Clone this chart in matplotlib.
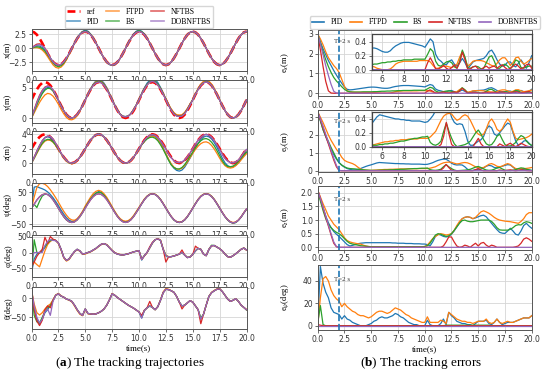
import numpy as np
import matplotlib
matplotlib.use("Agg")
import matplotlib.pyplot as plt
from matplotlib.lines import Line2D

# ---------------- data (sampled every 0.25 s over 0..20 s) ----------------
time_s = np.linspace(0.0, 20.0, 81)
T_mark = 2.0
t_ticks = [0.0, 2.5, 5.0, 7.5, 10.0, 12.5, 15.0, 17.5, 20.0]
inset_ticks = [6, 8, 10, 12, 14, 16, 18, 20]
methods = ["PID", "FTPD", "BS", "NFTBS", "DOBNFTBS"]
colors = ["#1f77b4", "#ff7f0e", "#2ca02c", "#d62728", "#9467bd"]

# ---- x(m)
x_ref = [3.00,2.85,2.43,1.76,0.93,0.00,-0.93,-1.76,-2.43,-2.85,-3.00,-2.85,-2.43,-1.76,-0.93,0.00,0.93,1.76,2.43,2.85,
         3.00,2.85,2.43,1.76,0.93,0.00,-0.93,-1.76,-2.43,-2.85,-3.00,-2.85,-2.43,-1.76,-0.93,0.00,0.93,1.76,2.43,2.85,
         3.00,2.85,2.43,1.76,0.93,0.00,-0.93,-1.76,-2.43,-2.85,-3.00,-2.85,-2.43,-1.76,-0.93,0.00,0.93,1.76,2.43,2.85,
         3.00,2.85,2.43,1.76,0.93,0.00,-0.93,-1.76,-2.43,-2.85,-3.00,-2.85,-2.43,-1.76,-0.93,0.00,0.93,1.76,2.43,2.85,
         3.00]
x_pid = [0.00,0.30,0.45,0.40,0.15,-0.30,-0.95,-1.70,-2.40,-2.90,-3.10,-2.95,-2.50,-1.80,-0.95,0.00,0.98,1.85,2.55,3.00,
         3.25,3.05,2.55,1.80,0.95,0.00,-0.95,-1.80,-2.50,-2.90,-3.05,-2.90,-2.48,-1.78,-0.93,0.02,0.98,1.85,2.55,3.05,
         3.25,3.05,2.55,1.80,0.95,0.00,-0.95,-1.78,-2.45,-2.85,-3.00,-2.85,-2.43,-1.76,-0.93,0.00,0.93,1.76,2.43,2.85,
         3.00,2.85,2.43,1.76,0.93,0.00,-0.93,-1.76,-2.43,-2.85,-3.00,-2.85,-2.43,-1.76,-0.93,0.00,0.93,1.76,2.43,2.85,
         3.00]
x_ftpd = [0.00,0.10,0.12,0.00,-0.30,-0.80,-1.50,-2.25,-2.95,-3.40,-3.55,-3.35,-2.85,-2.05,-1.10,-0.05,0.90,1.75,2.40,2.80,
          2.95,2.85,2.45,1.80,0.95,0.00,-0.95,-1.78,-2.45,-2.85,-3.00,-2.85,-2.43,-1.76,-0.93,0.00,0.93,1.76,2.43,2.88,
          3.05,2.90,2.45,1.78,0.95,0.00,-0.93,-1.76,-2.43,-2.85,-3.00,-2.85,-2.43,-1.76,-0.93,0.00,0.93,1.76,2.43,2.85,
          3.00,2.85,2.43,1.76,0.93,0.00,-0.93,-1.76,-2.43,-2.85,-3.00,-2.85,-2.43,-1.76,-0.93,0.00,0.93,1.76,2.43,2.85,
          3.00]
x_bs = [0.00,0.20,0.28,0.20,-0.05,-0.50,-1.15,-1.90,-2.60,-3.10,-3.30,-3.10,-2.65,-1.90,-1.00,-0.02,0.95,1.80,2.50,2.95,
        3.10,2.95,2.50,1.80,0.95,0.00,-0.95,-1.78,-2.45,-2.88,-3.05,-2.88,-2.45,-1.76,-0.93,0.00,0.95,1.78,2.48,2.95,
        3.15,2.98,2.50,1.78,0.95,0.00,-0.93,-1.76,-2.43,-2.85,-3.00,-2.85,-2.43,-1.76,-0.93,0.00,0.93,1.76,2.43,2.85,
        3.00,2.85,2.43,1.76,0.93,0.00,-0.93,-1.76,-2.43,-2.85,-3.00,-2.85,-2.43,-1.76,-0.93,0.00,0.93,1.76,2.43,2.85,
        3.00]
x_nftbs = [0.00,0.45,0.75,0.80,0.60,0.05,-0.90,-1.76,-2.43,-2.85,-3.05,-2.85,-2.43,-1.76,-0.93,0.00,0.93,1.76,2.43,2.85,
           3.00,2.85,2.43,1.76,0.93,0.00,-0.93,-1.76,-2.43,-2.85,-3.00,-2.85,-2.43,-1.76,-0.93,0.00,0.93,1.76,2.43,2.85,
           3.00,2.85,2.43,1.76,0.93,0.00,-0.93,-1.76,-2.43,-2.85,-3.00,-2.85,-2.43,-1.76,-0.93,0.00,0.93,1.76,2.43,2.85,
           3.00,2.85,2.43,1.76,0.93,0.00,-0.93,-1.76,-2.43,-2.85,-3.00,-2.85,-2.43,-1.76,-0.93,0.00,0.93,1.76,2.43,2.85,
           3.00]
x_dob = [0.00,0.35,0.58,0.62,0.45,0.00,-0.90,-1.76,-2.43,-2.85,-3.00,-2.85,-2.43,-1.76,-0.93,0.00,0.93,1.76,2.43,2.85,
         3.00,2.85,2.43,1.76,0.93,0.00,-0.93,-1.76,-2.43,-2.85,-3.00,-2.85,-2.43,-1.76,-0.93,0.00,0.93,1.76,2.43,2.85,
         3.00,2.85,2.43,1.76,0.93,0.00,-0.93,-1.76,-2.43,-2.85,-3.00,-2.85,-2.43,-1.76,-0.93,0.00,0.93,1.76,2.43,2.85,
         3.00,2.85,2.43,1.76,0.93,0.00,-0.93,-1.76,-2.43,-2.85,-3.00,-2.85,-2.43,-1.76,-0.93,0.00,0.93,1.76,2.43,2.85,
         3.00]

# ---- y(m)
y_ref = [3.00,3.93,4.76,5.43,5.85,6.00,5.85,5.43,4.76,3.93,3.00,2.07,1.24,0.57,0.15,0.00,0.15,0.57,1.24,2.07,
         3.00,3.93,4.76,5.43,5.85,6.00,5.85,5.43,4.76,3.93,3.00,2.07,1.24,0.57,0.15,0.00,0.15,0.57,1.24,2.07,
         3.00,3.93,4.76,5.43,5.85,6.00,5.85,5.43,4.76,3.93,3.00,2.07,1.24,0.57,0.15,0.00,0.15,0.57,1.24,2.07,
         3.00,3.93,4.76,5.43,5.85,6.00,5.85,5.43,4.76,3.93,3.00,2.07,1.24,0.57,0.15,0.00,0.15,0.57,1.24,2.07,
         3.00]
y_pid = [0.00,1.20,2.40,3.40,4.25,4.85,5.10,5.00,4.60,3.85,2.95,2.05,1.20,0.55,0.12,-0.02,0.15,0.60,1.30,2.15,
         3.05,4.00,4.90,5.65,6.20,6.45,6.30,5.80,5.05,4.10,3.10,2.15,1.30,0.65,0.30,0.25,0.35,0.75,1.40,2.20,
         3.10,4.10,5.00,5.80,6.30,6.55,6.40,5.90,5.10,4.15,3.15,2.20,1.40,0.80,0.45,0.35,0.45,0.85,1.50,2.30,
         3.05,4.00,4.85,5.50,5.95,6.10,5.95,5.50,4.80,3.95,3.00,2.05,1.22,0.55,0.12,0.00,0.15,0.57,1.24,2.07,
         3.00]
y_ftpd = [0.00,0.85,1.75,2.60,3.30,3.85,4.10,4.00,3.65,3.05,2.30,1.45,0.70,0.10,-0.25,-0.30,-0.10,0.40,1.15,2.05,
          3.05,3.98,4.85,5.55,6.05,6.25,6.10,5.65,4.95,4.05,3.08,2.12,1.28,0.62,0.28,0.22,0.32,0.72,1.38,2.18,
          3.05,4.00,4.85,5.55,6.00,6.15,6.00,5.60,4.95,4.10,3.20,2.30,1.50,0.90,0.55,0.50,0.55,0.95,1.60,2.35,
          3.10,4.05,4.95,5.65,6.10,6.30,6.15,5.65,4.95,4.05,3.08,2.10,1.25,0.58,0.15,0.02,0.15,0.57,1.24,2.07,
          3.00]
y_bs = [0.00,1.10,2.20,3.20,4.05,4.65,4.95,4.90,4.50,3.80,2.95,2.05,1.20,0.55,0.12,0.00,0.15,0.57,1.24,2.07,
        3.02,3.95,4.80,5.50,5.95,6.15,6.00,5.55,4.85,4.00,3.05,2.10,1.28,0.62,0.28,0.22,0.32,0.72,1.38,2.18,
        3.05,4.02,4.90,5.60,6.05,6.25,6.10,5.65,4.95,4.05,3.10,2.15,1.35,0.75,0.40,0.32,0.40,0.80,1.45,2.25,
        3.05,3.98,4.82,5.48,5.90,6.05,5.90,5.46,4.78,3.94,3.00,2.07,1.24,0.57,0.15,0.00,0.15,0.57,1.24,2.07,
        3.00]
y_nftbs = [0.00,1.40,2.70,3.80,4.60,5.15,5.35,5.20,4.70,3.90,2.98,2.05,1.22,0.57,0.15,0.00,0.15,0.57,1.24,2.07,
           3.00,3.93,4.76,5.43,5.85,6.00,5.85,5.43,4.76,3.93,3.00,2.07,1.24,0.60,0.25,0.20,0.30,0.70,1.35,2.15,
           3.00,3.95,4.80,5.50,5.95,6.10,5.95,5.45,4.80,3.95,3.05,2.10,1.30,0.68,0.35,0.28,0.35,0.75,1.40,2.20,
           3.00,3.93,4.76,5.43,5.85,6.00,5.85,5.43,4.76,3.93,3.00,2.07,1.24,0.57,0.15,0.00,0.15,0.57,1.24,2.07,
           3.00]
y_dob = [0.00,1.30,2.55,3.65,4.50,5.05,5.30,5.20,4.70,3.90,2.95,2.00,1.20,0.55,0.15,0.00,0.15,0.57,1.24,2.07,
         3.00,3.93,4.76,5.43,5.85,6.00,5.85,5.43,4.76,3.93,3.00,2.07,1.24,0.60,0.25,0.20,0.30,0.70,1.35,2.15,
         3.00,3.95,4.80,5.50,5.95,6.10,5.95,5.50,4.82,3.95,3.02,2.08,1.28,0.65,0.32,0.25,0.32,0.72,1.38,2.18,
         3.00,3.93,4.76,5.43,5.85,6.00,5.85,5.43,4.76,3.93,3.00,2.07,1.24,0.57,0.15,0.00,0.15,0.57,1.24,2.07,
         3.00]

# ---- z(m)
z_ref = [2.00,2.62,3.18,3.62,3.90,4.00,3.90,3.62,3.18,2.62,2.00,1.38,0.82,0.38,0.10,0.00,0.10,0.38,0.82,1.38,
         2.00,2.62,3.18,3.62,3.90,4.00,3.90,3.62,3.18,2.62,2.00,1.38,0.82,0.38,0.10,0.00,0.10,0.38,0.82,1.38,
         2.00,2.62,3.18,3.62,3.90,4.00,3.90,3.62,3.18,2.62,2.00,1.38,0.82,0.38,0.10,0.00,0.10,0.38,0.82,1.38,
         2.00,2.62,3.18,3.62,3.90,4.00,3.90,3.62,3.18,2.62,2.00,1.38,0.82,0.38,0.10,0.00,0.10,0.38,0.82,1.38,
         2.00]
z_pid = [0.00,0.80,1.60,2.40,3.05,3.50,3.65,3.55,3.20,2.65,2.00,1.35,0.80,0.35,0.08,0.00,0.10,0.38,0.82,1.40,
         2.02,2.65,3.22,3.66,3.95,4.05,3.95,3.66,3.20,2.62,2.00,1.38,0.82,0.38,0.10,0.00,0.10,0.38,0.82,1.38,
         2.00,2.55,3.08,3.48,3.75,3.85,3.70,3.35,2.80,2.10,1.30,0.50,-0.20,-0.70,-1.00,-1.10,-0.95,-0.55,0.05,0.70,
         1.40,2.10,2.75,3.25,3.60,3.75,3.65,3.35,2.85,2.20,1.45,0.70,0.05,-0.35,-0.52,-0.50,-0.30,0.05,0.55,1.05,
         1.50]
z_ftpd = [0.00,0.65,1.35,2.05,2.65,3.05,3.20,3.15,2.90,2.45,1.90,1.30,0.75,0.30,0.00,-0.10,0.05,0.35,0.80,1.35,
          1.98,2.60,3.15,3.58,3.88,3.98,3.88,3.60,3.15,2.60,1.98,1.35,0.80,0.35,0.08,-0.02,0.08,0.35,0.80,1.35,
          1.95,2.55,3.05,3.45,3.70,3.75,3.60,3.25,2.70,2.05,1.30,0.55,-0.10,-0.55,-0.80,-0.85,-0.70,-0.35,0.15,0.75,
          1.35,1.90,2.35,2.70,2.90,2.95,2.80,2.45,1.95,1.35,0.70,0.10,-0.35,-0.60,-0.68,-0.60,-0.35,0.00,0.45,0.90,
          1.30]
z_bs = [0.00,0.70,1.45,2.15,2.75,3.15,3.30,3.25,2.95,2.50,1.95,1.35,0.80,0.35,0.05,-0.05,0.08,0.38,0.82,1.38,
        2.00,2.62,3.18,3.62,3.90,4.00,3.90,3.62,3.18,2.62,2.00,1.38,0.82,0.38,0.10,0.00,0.10,0.38,0.82,1.38,
        1.98,2.55,3.00,3.35,3.55,3.60,3.45,3.10,2.55,1.90,1.15,0.40,-0.25,-0.60,-0.80,-0.80,-0.60,-0.20,0.35,0.95,
        1.55,2.15,2.70,3.10,3.35,3.40,3.25,2.90,2.40,1.75,1.05,0.35,-0.20,-0.45,-0.50,-0.40,-0.15,0.25,0.70,1.15,
        1.55]
z_nftbs = [0.00,0.85,1.70,2.45,3.10,3.55,3.75,3.70,3.35,2.75,2.05,1.40,0.82,0.38,0.10,0.00,0.10,0.38,0.82,1.38,
           2.00,2.62,3.18,3.62,3.90,4.00,3.90,3.62,3.18,2.62,2.00,1.38,0.82,0.38,0.10,0.00,0.10,0.38,0.82,1.38,
           2.00,2.62,3.18,3.62,3.90,4.00,3.90,3.62,3.18,2.62,2.00,1.35,0.80,0.35,0.05,-0.02,0.10,0.38,0.82,1.38,
           2.00,2.62,3.18,3.62,3.90,4.00,3.90,3.62,3.18,2.62,2.00,1.38,0.82,0.38,0.10,0.00,0.10,0.45,0.95,1.55,
           1.85]
z_dob = [0.00,0.80,1.65,2.45,3.10,3.55,3.75,3.70,3.35,2.75,2.05,1.40,0.82,0.38,0.10,0.00,0.10,0.38,0.82,1.38,
         2.00,2.62,3.18,3.62,3.90,4.00,3.90,3.62,3.18,2.62,2.00,1.38,0.82,0.38,0.10,0.00,0.10,0.38,0.82,1.38,
         2.00,2.62,3.15,3.58,3.85,3.95,3.85,3.55,3.10,2.52,1.90,1.28,0.72,0.32,0.12,0.10,0.20,0.45,0.88,1.42,
         2.05,2.65,3.18,3.60,3.88,3.98,3.88,3.58,3.10,2.50,1.85,1.20,0.65,0.25,0.05,0.05,0.18,0.45,0.90,1.45,
         1.90]

# ---- psi(deg)
psi_pid = [0,66,68,64,61,57,51,43,33,21,8,-6,-19,-30,-38,-42,-40,-34,-24,-11,
           3,17,30,40,48,52,50,42,31,17,2,-12,-25,-35,-41,-43,-41,-35,-25,-12,
           1,14,27,37,43,45,43,37,27,14,0,-14,-27,-37,-43,-45,-43,-37,-27,-14,
           0,14,27,37,43,45,43,37,27,14,0,-14,-27,-37,-44,-47,-45,-38,-28,-15,
           -3]
psi_ftpd = [0,35,65,77,78,75,68,58,46,33,19,4,-10,-22,-32,-37,-38,-33,-23,-10,
            7,21,35,46,53,56,53,45,34,20,5,-10,-23,-33,-39,-41,-39,-33,-23,-10,
            3,16,29,38,44,46,44,38,28,15,1,-13,-26,-36,-42,-44,-42,-36,-26,-13,
            1,15,28,38,44,46,44,38,28,15,1,-13,-26,-36,-42,-45,-43,-37,-27,-14,
            -2]
psi_bs = [0,12,2,22,38,44,43,37,27,14,0,-14,-27,-37,-43,-45,-43,-37,-27,-14,
          2,16,29,39,47,50,48,40,29,15,1,-13,-26,-36,-42,-44,-42,-36,-26,-13,
          0,14,27,37,43,45,43,37,27,14,0,-14,-27,-37,-43,-45,-43,-37,-27,-14,
          0,14,27,37,43,45,43,37,27,14,0,-14,-27,-37,-44,-47,-45,-38,-28,-15,
          -4]
psi_nftbs = [0,13,26,36,42.5,45,42.8,36.4,26.5,13.9,0,-13.9,-26.5,-36.4,-42.8,-45,-42.8,-36.4,-26.5,-13.9,
             0,13.9,26.5,36.4,42.8,45,42.8,36.4,26.5,13.9,0,-13.9,-26.5,-36.4,-42.8,-45,-42.8,-36.4,-26.5,-13.9,
             0,13.9,26.5,36.4,42.8,45,42.8,36.4,26.5,13.9,0,-13.9,-26.5,-36.4,-42.8,-45,-42.8,-36.4,-26.5,-13.9,
             0,13.9,26.5,36.4,42.8,45,42.8,36.4,26.5,13.9,0,-13.9,-26.5,-36.4,-43.5,-46.5,-44,-37.5,-27.5,-15,
             -3]
psi_dob = [0,12,25,35,42,44.5,42.8,36.4,26.5,13.9,0,-13.9,-26.5,-36.4,-42.8,-45,-42.8,-36.4,-26.5,-13.9,
           0,13.9,26.5,36.4,42.8,45,42.8,36.4,26.5,13.9,0,-13.9,-26.5,-36.4,-42.8,-45,-42.8,-36.4,-26.5,-13.9,
           0,13.9,26.5,36.4,42.8,45,42.8,36.4,26.5,13.9,0,-13.9,-26.5,-36.4,-42.8,-45,-42.8,-36.4,-26.5,-13.9,
           0,13.9,26.5,36.4,42.8,45,42.8,36.4,26.5,13.9,0,-13.9,-26.5,-36.4,-43.5,-46.5,-44,-37.5,-27.5,-15,
           -2]

# ---- phi(deg)
phi_pid = [-65,-20,-5,0,5,15,30,38,40,38,30,10,-15,-25,-20,-8,3,10,5,-5,
           -3,0,3,8,13,20,26,28,24,15,6,-1,-5,-7,-8,-6,-4,-1,2,4,
           6,-24,-10,0,15,30,40,43,38,10,-10,-14,-13,-11,-8,-5,0,-8,-16,-14,
           -6,5,13,10,-5,-10,8,21,22,17,12,5,-5,-13,-15,-10,-4,3,10,14,
           8]
phi_ftpd = [-45,-30,-38,-45,-20,5,25,35,40,38,28,8,-17,-27,-22,-9,2,9,4,-6,
            -5,-1,2,7,12,19,25,28,25,16,7,0,-4,-6,-7,-6,-4,-1,2,4,
            5,-22,-11,-1,14,29,40,44,39,12,-8,-13,-13,-11,-8,-5,0,-8,-16,-14,
            -6,5,13,10,-5,-10,10,21,22,17,12,5,-5,-13,-15,-10,-4,3,10,14,
            7]
phi_bs = [-72,40,0,-2,8,18,30,37,40,38,30,10,-15,-25,-20,-8,3,10,5,-5,
          -3,0,3,8,13,20,26,28,24,15,6,-1,-5,-7,-8,-6,-4,-1,2,4,
          6,-20,-10,0,15,30,40,43,38,10,-10,-14,-13,-11,-8,-5,0,-8,-16,-14,
          -6,5,13,10,-5,-10,10,23,22,17,12,5,-5,-13,-15,-10,-4,3,10,14,
          8]
phi_nftbs = [-45,-30,-12,0,10,48,28,50,42,38,30,10,-15,-25,-20,-8,3,10,5,-5,
             -3,0,3,8,13,20,26,28,24,15,6,-1,-5,-7,-8,-6,-4,-1,2,4,
             6,-22,-10,0,18,32,40,43,38,10,-30,-14,-13,-11,-8,-5,8,-8,-16,-14,
             -6,20,13,10,-5,-10,10,21,22,17,12,5,-5,-13,-15,-10,-4,3,10,14,
             8]
phi_dob = [-20,0,0,0,0,22,35,40,38,37,30,10,-15,-25,-20,-8,3,10,5,-5,
           -3,0,3,8,13,20,26,28,24,15,6,-1,-5,-7,-8,-6,-4,-1,2,4,
           6,-22,-10,0,15,30,40,43,38,10,-10,-14,-13,-11,-8,-5,0,-8,-16,-14,
           -6,5,13,10,-5,-10,10,21,22,17,12,5,-5,-13,-15,-10,-4,3,10,14,
           8]

# ---- theta(deg)
th_pid = [22,-25,-55,-68,-55,-38,-30,-18,-5,8,12,6,3,-2,-4,-8,-18,-30,-40,-45,
          -28,-40,-41,-42,-41,-38,-34,-28,-18,-4,12,8,2,-3,-8,-13,-18,-22,-26,-31,
          -36,-52,-32,-25,-20,-24,-30,-22,-5,15,24,23,20,16,5,-10,-20,-18,-12,-6,
          -10,-20,-30,-55,-42,-18,5,15,20,24,25,18,8,-2,-8,-5,-1,-8,-18,-24,
          -30]
th_ftpd = [22,-15,-38,-44,-38,-28,-20,-15,-4,9,13,7,3,-2,-5,-9,-20,-32,-42,-46,
           -30,-41,-42,-42,-41,-38,-34,-28,-18,-4,13,8,2,-3,-8,-13,-18,-22,-26,-31,
           -36,-48,-31,-25,-20,-24,-30,-22,-4,17,26,24,20,16,5,-10,-20,-18,-12,-6,
           -10,-20,-30,-55,-42,-18,5,16,21,25,26,18,8,-2,-8,-5,-1,-8,-18,-24,
           -29]
th_bs = [22,-45,-62,-65,-50,-35,-25,-20,-6,8,12,6,3,-2,-4,-8,-18,-30,-40,-45,
         -28,-40,-41,-42,-41,-38,-34,-28,-18,-4,12,8,2,-3,-8,-13,-18,-22,-26,-31,
         -36,-50,-32,-25,-20,-24,-30,-22,-5,15,24,23,20,16,5,-10,-20,-18,-12,-6,
         -10,-20,-30,-52,-42,-18,5,15,20,24,25,18,8,-2,-8,-5,-1,-8,-18,-24,
         -31]
th_nftbs = [22,-30,-60,-72,-58,-30,-20,-25,-5,8,12,6,3,-2,-4,-8,-18,-30,-40,-45,
            -28,-40,-41,-42,-41,-38,-34,-28,-18,-4,12,8,2,-3,-8,-13,-18,-22,-26,-31,
            -36,-45,-32,-25,-8,-24,-30,-22,-5,15,24,23,20,16,5,-10,-28,-18,-12,-6,
            -10,-20,-30,-67,-42,-18,5,15,20,24,25,18,8,-2,-8,-5,-1,-8,-18,-24,
            -30]
th_dob = [22,-20,-50,-65,-55,-35,-28,-45,-8,8,12,6,3,-2,-4,-8,-18,-30,-40,-45,
          -28,-40,-41,-42,-41,-38,-34,-28,-18,-4,12,8,2,-3,-8,-13,-18,-22,-26,-31,
          -36,-52,-32,-25,-20,-24,-30,-22,-5,15,24,23,20,16,5,-10,-20,-18,-12,-6,
          -10,-20,-30,-55,-42,-18,5,15,20,24,25,18,8,-2,-8,-5,-1,-8,-18,-24,
          -30]

# ---- e_x(m)
ex_pid = [3.00,2.60,2.25,1.95,1.65,1.40,1.15,0.92,0.70,0.50,0.32,0.20,0.17,0.18,0.20,0.22,0.24,0.26,0.28,0.30,
          0.31,0.31,0.30,0.28,0.26,0.25,0.25,0.27,0.31,0.34,0.36,0.38,0.39,0.39,0.39,0.38,0.37,0.36,0.35,0.34,
          0.32,0.38,0.44,0.40,0.22,0.15,0.12,0.08,0.07,0.12,0.14,0.08,0.05,0.10,0.16,0.10,0.02,0.06,0.11,0.13,
          0.14,0.15,0.16,0.20,0.26,0.28,0.22,0.14,0.08,0.05,0.06,0.11,0.11,0.06,0.04,0.09,0.14,0.08,0.02,0.10,
          0.20]
ex_ftpd = [3.00,2.75,2.45,2.10,1.80,1.60,1.40,1.25,1.05,0.70,0.35,0.12,0.08,0.06,0.05,0.05,0.05,0.05,0.05,0.05,
           0.05,0.04,0.02,0.01,0.00,0.00,0.00,0.01,0.04,0.08,0.10,0.11,0.12,0.12,0.12,0.12,0.12,0.12,0.13,0.13,
           0.13,0.13,0.11,0.06,0.02,0.02,0.04,0.05,0.05,0.04,0.03,0.05,0.08,0.18,0.26,0.16,0.05,0.08,0.12,0.13,
           0.13,0.13,0.12,0.10,0.08,0.06,0.05,0.09,0.14,0.17,0.17,0.12,0.06,0.10,0.17,0.18,0.12,0.08,0.10,0.13,
           0.16]
ex_bs = [3.00,2.55,2.10,1.70,1.35,1.05,0.80,0.62,0.48,0.33,0.20,0.11,0.07,0.06,0.06,0.06,0.06,0.07,0.07,0.07,
         0.07,0.08,0.08,0.09,0.10,0.10,0.11,0.11,0.12,0.12,0.13,0.13,0.14,0.14,0.14,0.14,0.15,0.15,0.15,0.15,
         0.15,0.22,0.30,0.26,0.12,0.06,0.05,0.08,0.11,0.12,0.10,0.04,0.02,0.12,0.28,0.18,0.03,0.02,0.04,0.05,
         0.04,0.01,0.02,0.10,0.18,0.20,0.12,0.02,0.02,0.06,0.08,0.05,0.01,0.06,0.14,0.12,0.03,0.02,0.04,0.05,
         0.05]
ex_nftbs = [3.00,2.20,1.35,0.60,0.12,0.01,0.00,0.00,0.00,0.00,0.00,0.00,0.00,0.00,0.00,0.00,0.00,0.00,0.00,0.00,
            0.00,0.00,0.00,0.00,0.00,0.00,0.00,0.00,0.00,0.00,0.00,0.00,0.00,0.00,0.00,0.00,0.00,0.00,0.00,0.00,
            0.00,0.10,0.17,0.10,0.01,0.01,0.03,0.06,0.02,0.00,0.03,0.07,0.02,0.10,0.25,0.14,0.01,0.01,0.04,0.05,
            0.01,0.00,0.03,0.05,0.02,0.04,0.05,0.02,0.05,0.07,0.03,0.00,0.02,0.05,0.08,0.05,0.01,0.03,0.07,0.08,
            0.02]
ex_dob = [3.00,2.50,1.95,1.40,0.90,0.45,0.10,0.01,0.00,0.00,0.00,0.00,0.00,0.00,0.00,0.00,0.00,0.00,0.00,0.00,
          0.00,0.00,0.00,0.00,0.00,0.00,0.00,0.00,0.00,0.00,0.00,0.00,0.00,0.00,0.00,0.00,0.00,0.00,0.00,0.00,
          0.00,0.00,0.00,0.00,0.00,0.00,0.00,0.00,0.00,0.00,0.00,0.00,0.00,0.00,0.00,0.00,0.00,0.00,0.00,0.00,
          0.00,0.00,0.00,0.00,0.00,0.00,0.00,0.00,0.00,0.00,0.00,0.00,0.00,0.00,0.00,0.00,0.00,0.00,0.00,0.00,
          0.00]

# ---- e_y(m)
ey_pid = [3.30,2.80,2.30,1.90,1.55,1.20,0.90,0.65,0.45,0.30,0.20,0.12,0.08,0.05,0.05,0.07,0.12,0.18,0.24,0.29,
          0.33,0.38,0.43,0.46,0.45,0.44,0.43,0.42,0.41,0.40,0.40,0.39,0.39,0.38,0.38,0.37,0.37,0.37,0.37,0.36,
          0.35,0.36,0.40,0.45,0.52,0.58,0.62,0.65,0.64,0.55,0.42,0.35,0.32,0.33,0.32,0.22,0.08,0.02,0.02,0.05,
          0.08,0.10,0.15,0.25,0.30,0.27,0.18,0.16,0.20,0.25,0.30,0.34,0.32,0.20,0.08,0.02,0.04,0.08,0.09,0.05,
          0.01]
ey_ftpd = [3.30,3.00,2.70,2.35,2.00,1.70,1.45,1.20,1.00,0.75,0.58,0.50,0.45,0.40,0.32,0.20,0.10,0.05,0.03,0.02,
           0.02,0.03,0.04,0.05,0.06,0.07,0.07,0.08,0.08,0.09,0.09,0.10,0.10,0.10,0.11,0.11,0.11,0.11,0.12,0.12,
           0.12,0.12,0.14,0.18,0.22,0.30,0.38,0.44,0.47,0.48,0.47,0.42,0.38,0.40,0.44,0.46,0.44,0.38,0.30,0.22,
           0.18,0.16,0.18,0.26,0.36,0.40,0.34,0.25,0.22,0.26,0.34,0.40,0.35,0.22,0.12,0.10,0.11,0.12,0.13,0.15,
           0.18]
ey_bs = [3.30,2.80,2.30,1.95,1.64,1.30,1.00,0.70,0.45,0.32,0.22,0.15,0.12,0.11,0.10,0.08,0.06,0.05,0.04,0.03,
         0.02,0.02,0.02,0.03,0.03,0.04,0.04,0.05,0.05,0.06,0.07,0.08,0.08,0.09,0.10,0.11,0.12,0.12,0.13,0.14,
         0.14,0.15,0.06,0.03,0.02,0.04,0.08,0.22,0.34,0.22,0.12,0.04,0.00,0.01,0.02,0.03,0.05,0.08,0.14,0.20,
         0.24,0.18,0.10,0.04,0.02,0.03,0.08,0.15,0.18,0.10,0.03,0.01,0.01,0.03,0.06,0.12,0.16,0.14,0.08,0.04,
         0.02]
ey_nftbs = [3.30,2.85,2.40,1.95,1.50,1.05,0.60,0.22,0.01,0.00,0.00,0.00,0.00,0.00,0.00,0.00,0.00,0.00,0.00,0.00,
            0.00,0.00,0.00,0.00,0.00,0.00,0.00,0.00,0.00,0.00,0.00,0.00,0.00,0.00,0.00,0.00,0.00,0.00,0.00,0.00,
            0.00,0.00,0.00,0.00,0.00,0.00,0.03,0.15,0.35,0.18,0.03,0.00,0.00,0.00,0.00,0.00,0.00,0.00,0.00,0.06,
            0.12,0.04,0.00,0.00,0.00,0.00,0.00,0.00,0.04,0.02,0.00,0.03,0.05,0.02,0.00,0.02,0.05,0.03,0.01,0.00,
            0.00]
ey_dob = [3.30,2.90,2.50,2.05,1.60,1.15,0.70,0.30,0.02,0.00,0.00,0.00,0.00,0.00,0.00,0.00,0.00,0.00,0.00,0.00,
          0.00,0.00,0.00,0.00,0.00,0.00,0.00,0.00,0.00,0.00,0.00,0.00,0.00,0.00,0.00,0.00,0.00,0.00,0.00,0.00,
          0.00,0.00,0.00,0.00,0.00,0.00,0.00,0.00,0.00,0.00,0.00,0.00,0.00,0.00,0.00,0.00,0.00,0.00,0.00,0.00,
          0.00,0.00,0.00,0.00,0.00,0.00,0.00,0.00,0.00,0.00,0.00,0.00,0.00,0.00,0.00,0.00,0.00,0.00,0.00,0.00,
          0.00]

# ---- e_z(m)
ez_pid = [2.10,1.75,1.45,1.15,0.90,0.72,0.58,0.48,0.40,0.30,0.20,0.10,0.05,0.07,0.10,0.13,0.15,0.16,0.17,0.17,
          0.17,0.17,0.17,0.17,0.17,0.17,0.17,0.17,0.16,0.16,0.15,0.15,0.15,0.14,0.14,0.14,0.13,0.13,0.13,0.12,
          0.12,0.10,0.05,0.20,0.40,0.48,0.45,0.40,0.38,0.40,0.48,0.60,0.75,0.90,1.05,1.10,1.12,1.10,1.05,1.08,
          1.12,1.16,1.18,1.12,1.00,0.88,0.76,0.65,0.55,0.52,0.51,0.60,0.70,0.60,0.48,0.45,0.60,0.80,0.88,0.78,
          0.70]
ez_ftpd = [2.10,1.85,1.60,1.38,1.15,1.00,0.85,0.75,0.65,0.50,0.35,0.25,0.20,0.17,0.15,0.13,0.12,0.08,0.05,0.03,
           0.02,0.02,0.02,0.02,0.02,0.02,0.02,0.02,0.02,0.02,0.02,0.02,0.02,0.02,0.02,0.02,0.02,0.02,0.02,0.02,
           0.03,0.08,0.20,0.32,0.40,0.46,0.50,0.48,0.45,0.47,0.50,0.62,0.80,0.95,1.05,1.10,1.12,1.10,1.05,1.10,
           1.20,1.30,1.34,1.30,1.25,1.18,1.10,1.04,1.00,0.98,0.96,0.95,0.94,0.92,0.90,0.88,0.95,1.05,1.20,1.27,
           1.27]
ez_bs = [2.10,1.70,1.35,1.05,0.85,0.72,0.62,0.55,0.50,0.42,0.32,0.22,0.15,0.12,0.10,0.08,0.06,0.05,0.04,0.03,
         0.02,0.02,0.02,0.02,0.02,0.02,0.02,0.02,0.02,0.02,0.02,0.02,0.02,0.02,0.02,0.02,0.02,0.02,0.02,0.02,
         0.03,0.06,0.15,0.30,0.45,0.50,0.48,0.44,0.40,0.42,0.50,0.62,0.75,0.88,0.98,1.00,0.96,0.94,0.94,0.96,
         0.98,1.00,1.00,1.00,1.00,0.95,0.85,0.72,0.64,0.63,0.63,0.63,0.66,0.72,0.80,0.83,0.82,0.90,0.94,0.92,
         0.88]
ez_nftbs = [2.10,1.80,1.45,1.10,0.78,0.45,0.15,0.02,0.00,0.00,0.00,0.00,0.00,0.00,0.00,0.00,0.00,0.00,0.00,0.00,
            0.00,0.00,0.00,0.00,0.00,0.00,0.00,0.00,0.00,0.00,0.00,0.00,0.00,0.00,0.00,0.00,0.00,0.00,0.00,0.00,
            0.00,0.00,0.00,0.00,0.00,0.00,0.00,0.05,0.20,0.38,0.38,0.20,0.05,0.00,0.02,0.08,0.05,0.00,0.08,0.15,
            0.05,0.15,0.18,0.08,0.02,0.08,0.05,0.00,0.00,0.00,0.00,0.00,0.00,0.00,0.02,0.05,0.15,0.30,0.35,0.30,
            0.22]
ez_dob = [2.10,1.80,1.48,1.15,0.82,0.50,0.20,0.03,0.00,0.00,0.00,0.00,0.00,0.00,0.00,0.00,0.00,0.00,0.00,0.00,
          0.00,0.00,0.00,0.00,0.00,0.00,0.00,0.00,0.00,0.00,0.00,0.00,0.00,0.00,0.00,0.00,0.00,0.00,0.00,0.00,
          0.00,0.00,0.00,0.00,0.00,0.00,0.00,0.00,0.00,0.00,0.00,0.00,0.00,0.00,0.00,0.00,0.00,0.00,0.00,0.00,
          0.00,0.00,0.00,0.00,0.00,0.00,0.00,0.00,0.00,0.00,0.00,0.00,0.00,0.00,0.00,0.00,0.00,0.00,0.00,0.00,
          0.00]

# ---- e_psi(deg)
ep_pid = [0,53,38,30,25,16,12,11,10,6,9,6,5,3,2,1,0,0,0,1,
          2,4,5,7,8,7,7,8,9,11,10,8,7,5,3,2,1,1,0,0,
          0,5,1,0,0,0,2,6,1,12,9,7,4,3,2,2,1,1,0,2,
          4,4,4,5,2,1,3,6,3,1,2,3,3,3,4,5,6,7,7,7,
          9]
ep_ftpd = [0,25,42,44,40,32,27,24,22,17,20,17,15,13,12,10,9,9,8,7,
           8,10,12,13,13,12,11,12,14,16,15,14,12,10,9,7,6,5,4,3,
           3,8,3,3,3,3,5,4,2,12,10,8,6,5,4,4,3,3,2,3,
           4,4,4,6,3,2,3,6,3,2,3,4,3,3,4,5,6,7,7,7,
           9]
ep_bs = [2,18,1,0,0,0,0,0,0,0,0,0,0,0,0,0,0,0,0,0,
         0,0,0,0,0,0,0,0,0,0,0,0,0,0,0,0,0,0,0,0,
         0,0,0,0,0,0,0,0,0.5,0.5,0.5,0.5,0.5,0.5,0.5,0.5,0.5,0.5,0.5,0.5,
         0.5,0.5,0.5,0.5,0.5,0,0,0,0,0,0,0,0,0,0,0,0,0,0,0,
         0]
ep_nftbs = [1,0.5,0,0,0,0,0,0,0,0,0,0,0,0,0,0,0,0,0,0,
            0,0,0,0,0,0,0,0,0,0,0,0,0,0,0,0,0,0,0,0,
            0,0,0,0,0,0,0,0,0,0,0,0,0,0,0,0,0,0,0,0,
            0,0,0,0,0,0,0,0,0,0,0,0,0,0,0,0,0,0,0,0,
            0]
ep_dob = [0,0,0,0,0,0,0,0,0,0,0,0,0,0,0,0,0,0,0,0,
          0,0,0,0,0,0,0,0,0,0,0,0,0,0,0,0,0,0,0,0,
          0,0,0,0,0,0,0,0,0,0,0,0,0,0,0,0,0,0,0,0,
          0,0,0,0,0,0,0,0,0,0,0,0,0,0,0,0,0,0,0,0,
          0]

# ---------------- sanity check ----------------
_bad = [k for k, v in list(globals().items())
        if isinstance(v, list) and k not in ("t_ticks", "inset_ticks", "methods", "colors") and len(v) != len(time_s)]
if _bad:
    raise ValueError("length mismatch: " + ", ".join(f"{k}={len(globals()[k])}" for k in _bad))

# ---------------- styling ----------------
plt.rcParams.update({
    "font.family": "DejaVu Sans",
    "mathtext.fontset": "custom",
    "mathtext.rm": "Liberation Serif",
    "mathtext.it": "Liberation Serif:italic",
    "mathtext.bf": "Liberation Serif:bold",
})
SERIF = "Liberation Serif"
TICK = 5.5
LW = 0.9

fig = plt.figure(figsize=(5.5, 3.76), dpi=100)


def axes_px(l, t, r, b):
    return fig.add_axes([l / 550, 1 - b / 376, (r - l) / 550, (b - t) / 376])


def style(ax, size=TICK):
    ax.grid(True, color="#d6d6d6", lw=0.6)
    ax.set_axisbelow(True)
    ax.tick_params(labelsize=size, length=2, width=0.5, pad=1.5, colors="#333333")
    for s in ax.spines.values():
        s.set_linewidth(0.7)
        s.set_color("#555555")


# ---------------- left column: trajectories ----------------
left_rows = [(29, 71), (80, 123), (131, 174), (183, 226), (235, 277), (287, 329)]
left_sets = [
    ("x(m)", x_ref, [x_pid, x_ftpd, x_bs, x_nftbs, x_dob], (-4.05, 3.45), [-2.5, 0.0, 2.5]),
    ("y(m)", y_ref, [y_pid, y_ftpd, y_bs, y_nftbs, y_dob], (-0.83, 6.33), [0, 5]),
    ("z(m)", z_ref, [z_pid, z_ftpd, z_bs, z_nftbs, z_dob], (-1.5, 4.45), [0, 2, 4]),
    ("ψ(deg)", None, [psi_pid, psi_ftpd, psi_bs, psi_nftbs, psi_dob], (-56, 79), [-50, 0, 50]),
    ("φ(deg)", None, [phi_pid, phi_ftpd, phi_bs, phi_nftbs, phi_dob], (-77, 55), [-50, 0, 50]),
    ("θ(deg)", None, [th_pid, th_ftpd, th_bs, th_nftbs, th_dob], (-81, 30), [-50, 0]),
]
left_axes = []
for (top, bot), (lab, ref, series, ylim, yt) in zip(left_rows, left_sets):
    ax = axes_px(31.5, top, 246.5, bot)
    for s, c in zip(series, colors):
        ax.plot(time_s, s, color=c, lw=LW)
    if ref is not None:
        ax.plot(time_s, ref, color="red", lw=1.9, ls=(0, (3, 1.6)), zorder=1.5)
    ax.set_xlim(0, 20)
    ax.set_ylim(*ylim)
    ax.set_xticks(t_ticks)
    ax.set_yticks(yt)
    ax.set_ylabel(lab, family=[SERIF, "DejaVu Serif"], fontsize=6)
    ax.yaxis.set_label_coords(-0.09, 0.5)
    style(ax)
    left_axes.append(ax)
left_axes[-1].set_xlabel("time(s)", family=SERIF, fontsize=6.5, labelpad=1)

leg_handles = [Line2D([], [], color="red", lw=1.9, ls=(0, (3, 1.6)))] + \
              [Line2D([], [], color=c, lw=1.2, alpha=0.7) for c in colors]
fig.legend(leg_handles, ["ref"] + methods, loc="center", bbox_to_anchor=(139 / 550, 1 - 17 / 376),
           ncol=3, prop={"family": SERIF, "size": 5.6}, handlelength=1.7, columnspacing=0.9,
           labelspacing=0.2, borderpad=0.3, handletextpad=0.8, frameon=True,
           edgecolor="#cccccc", fancybox=True)

# ---------------- right column: tracking errors ----------------
right_rows = [(30, 96), (110, 172.5), (186, 249.5), (265, 330)]
right_sets = [
    (r"e$_x$(m)", [ex_pid, ex_ftpd, ex_bs, ex_nftbs, ex_dob], (-0.14, 3.2), [0, 1, 2, 3],
     [0.252, 0.394, 0.748, 0.545], (-0.005, 0.51), 0.82),
    (r"e$_y$(m)", [ey_pid, ey_ftpd, ey_bs, ey_nftbs, ey_dob], (-0.1, 3.4), [0, 1, 2, 3],
     [0.252, 0.408, 0.748, 0.56], (-0.005, 0.5), 0.82),
    (r"e$_z$(m)", [ez_pid, ez_ftpd, ez_bs, ez_nftbs, ez_dob], (-0.08, 2.25), [0.0, 0.5, 1.0, 1.5, 2.0],
     None, None, 0.79),
    (r"e$_\psi$(deg)", [ep_pid, ep_ftpd, ep_bs, ep_nftbs, ep_dob], (-3.8, 54.3), [0, 20, 40],
     None, None, 0.78),
]
right_axes = []
for (top, bot), (lab, series, ylim, yt, inset, ilim, ty) in zip(right_rows, right_sets):
    ax = axes_px(317.7, top, 531.7, bot)
    for s, c in zip(series, colors):
        ax.plot(time_s, s, color=c, lw=LW)
    ax.axvline(T_mark, color=colors[0], ls="--", lw=1.2)
    ax.text(T_mark + 0.25, ty, "T=2 s", transform=ax.get_xaxis_transform(), ha="center", va="center",
            family=SERIF, fontsize=5, color="#333333")
    ax.set_xlim(0, 20)
    ax.set_ylim(*ylim)
    ax.set_xticks(t_ticks)
    ax.set_yticks(yt)
    ax.set_ylabel(lab, family=SERIF, fontsize=6.2)
    ax.yaxis.set_label_coords(-0.125, 0.5)
    style(ax)
    if inset is not None:
        ins = ax.inset_axes(inset)
        ins.set_facecolor("white")
        for s, c in zip(series, colors):
            ins.plot(time_s, s, color=c, lw=LW)
        ins.set_xlim(5, 20)
        ins.set_ylim(*ilim)
        ins.set_xticks(inset_ticks)
        ins.set_yticks([0.0, 0.2, 0.4])
        style(ins, size=5.5)
        for s in ins.spines.values():
            s.set_linewidth(0.9)
            s.set_color("#444444")
    right_axes.append(ax)
right_axes[-1].set_xlabel("time(s)", family=SERIF, fontsize=6.5, labelpad=1)

r_handles = [Line2D([], [], color=c, lw=1.2) for c in colors]
fig.legend(r_handles, methods, loc="center", bbox_to_anchor=(425 / 550, 1 - 22.5 / 376),
           ncol=5, prop={"family": SERIF, "size": 5.6}, handlelength=1.6, columnspacing=0.9,
           borderpad=0.3, handletextpad=0.8, frameon=True, edgecolor="#cccccc", fancybox=True)

# ---------------- captions ----------------
fig.text(130 / 550, 1 - 363 / 376, r"($\mathbf{a}$) The tracking trajectories", ha="center", va="center",
         family=SERIF, fontsize=9.5)
fig.text(421 / 550, 1 - 363 / 376, r"($\mathbf{b}$) The tracking errors", ha="center", va="center",
         family=SERIF, fontsize=9.5)

fig.savefig("out.png", dpi=100)
